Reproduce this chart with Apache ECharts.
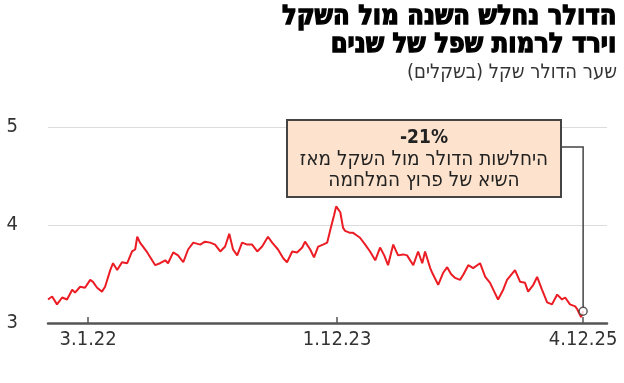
<!DOCTYPE html>
<html>
<head>
<meta charset="utf-8">
<script src="https://cdn.jsdelivr.net/npm/echarts@6/dist/echarts.min.js"></script>
<style>
html,body{margin:0;padding:0;background:#fff;}
#c{width:624px;height:383px;}
</style>
</head>
<body>
<div id="c"></div>
<script>
// x position of each observation, in days from 3.1.22 (as drawn on the chart)
const days = [
  -116,-104,-90,-75,-61,-46,-38,-23,-9,6,
  14,26,40,49,64,72,84,98,113,127,
  136,142,150,171,194,208,223,231,246,260,
  275,289,304,324,338,353,367,382,396,408,
  419,431,445,460,474,489,503,520,532,549,
  564,575,590,604,619,627,642,653,665,679,
  691,700,711,717,729,737,743,757,766,778,
  786,801,815,830,844,856,867,882,896,911,
  922,940,954,966,974,989,995,1012,1026,1038,
  1049,1061,1075,1084,1099,1113,1133,1148,1162,1174,
  1185,1200,1211,1234,1249,1263,1272,1287,1298,1312,
  1327,1341,1356,1370,1379,1393,1408,1414,1425,1431
];
// USD/ILS rate (shekels per dollar)
const rates = [
  3.24,3.27,3.19,3.26,3.24,3.34,3.31,3.37,3.36,3.44,
  3.42,3.36,3.32,3.37,3.54,3.61,3.54,3.62,3.61,3.73,
  3.75,3.88,3.82,3.72,3.59,3.61,3.64,3.61,3.72,3.69,
  3.62,3.75,3.82,3.80,3.83,3.82,3.80,3.73,3.78,3.91,
  3.75,3.69,3.82,3.80,3.80,3.73,3.78,3.88,3.82,3.75,
  3.66,3.62,3.73,3.72,3.77,3.83,3.75,3.67,3.78,3.80,
  3.82,3.95,4.10,4.19,4.13,3.97,3.94,3.92,3.92,3.89,
  3.87,3.80,3.73,3.64,3.77,3.69,3.59,3.80,3.69,3.70,
  3.69,3.59,3.73,3.61,3.73,3.56,3.51,3.39,3.51,3.57,
  3.50,3.46,3.44,3.49,3.59,3.56,3.61,3.47,3.41,3.32,
  3.24,3.34,3.44,3.54,3.42,3.41,3.32,3.39,3.47,3.34,
  3.21,3.19,3.29,3.24,3.26,3.19,3.17,3.14,3.06,3.12
];
const tickDays = [0, 720, 1431];
const tickLabels = ['3.1.22', '1.12.23', '4.12.25'];
const yTicks = [3, 4, 5];

const titleLines = ['הדולר נחלש השנה מול השקל', 'וירד לרמות שפל של שנים'];
const subtitle = 'שער הדולר שקל (בשקלים)\u200F';
const noteHead = '-21%';
const noteLines = ['היחלשות הדולר מול השקל מאז', 'השיא של פרוץ המלחמה'];

const NARROW = "'Liberation Sans Narrow','DejaVu Sans Condensed',sans-serif";
const HEB = "'DejaVu Sans Condensed','Liberation Sans Narrow',sans-serif";

const chart = echarts.init(document.getElementById('c'), null, {renderer: 'canvas'});
const lineData = days.map((d, i) => [d, rates[i]]);
const last = lineData[lineData.length - 1];

chart.setOption({
  animation: false,
  grid: {left: 48, right: 17, top: 127, bottom: 60, containLabel: false},
  xAxis: {
    type: 'value', min: -116, max: 1500,
    axisLine: {show: true, onZero: false, lineStyle: {color: '#555', width: 2.5}},
    axisTick: {show: true, inside: true, length: 6, customValues: tickDays, lineStyle: {color: '#555', width: 1.5}},
    axisLabel: {
      show: true, customValues: tickDays, margin: 7,
      fontFamily: NARROW, fontSize: 20, color: '#333',
      formatter: v => tickLabels[tickDays.indexOf(v)] || ''
    },
    splitLine: {show: false}
  },
  yAxis: {
    type: 'value', min: yTicks[0], max: yTicks[yTicks.length - 1], interval: 1,
    axisLine: {show: false}, axisTick: {show: false},
    axisLabel: {margin: 30, fontFamily: NARROW, fontSize: 20, color: '#333'},
    splitLine: {show: true, lineStyle: {color: '#dcdcdc', width: 1}}
  },
  series: [
    {
      type: 'line', data: lineData, showSymbol: false, smooth: false,
      lineStyle: {color: '#ec1c24', width: 2}, z: 3
    },
    {
      type: 'scatter', data: [last], symbol: 'circle', symbolSize: 8,
      itemStyle: {color: '#fff', borderColor: '#333', borderWidth: 1.5}, z: 5
    }
  ]
});

const p = chart.convertToPixel({seriesIndex: 0}, last);
const boxL = 287, boxT = 120, boxR = 561, boxB = 197, joinY = 147;
const cx = (boxL + boxR) / 2;

chart.setOption({
  graphic: [
    {type: 'text', right: 7, top: 3, style: {text: titleLines[0], font: "bold 27px " + HEB, fill: '#000', stroke: '#000', lineWidth: 1.3, align: 'right'}},
    {type: 'text', right: 7, top: 31, style: {text: titleLines[1], font: "bold 27px " + HEB, fill: '#000', stroke: '#000', lineWidth: 1.3, align: 'right'}},
    {type: 'text', right: 7, top: 63, style: {text: subtitle, font: "20px " + HEB, fill: '#333', align: 'right'}},
    {type: 'polyline', shape: {points: [[boxR, joinY], [p[0], joinY], [p[0], p[1] - 4]]}, style: {stroke: '#444', lineWidth: 1.5, fill: null}, z: 10},
    {type: 'rect', shape: {x: boxL, y: boxT, width: boxR - boxL, height: boxB - boxT}, style: {fill: '#fde3cd', stroke: '#444', lineWidth: 2}, z: 10},
    {type: 'text', x: cx, y: 138, style: {text: noteHead, font: "bold 19px " + NARROW, fill: '#222', align: 'center', verticalAlign: 'middle'}, z: 11},
    {type: 'text', x: cx, y: 160, style: {text: noteLines[0], font: "20.5px " + HEB, fill: '#222', align: 'center', verticalAlign: 'middle'}, z: 11},
    {type: 'text', x: cx, y: 181, style: {text: noteLines[1], font: "20.5px " + HEB, fill: '#222', align: 'center', verticalAlign: 'middle'}, z: 11}
  ]
});
</script>
</body>
</html>
